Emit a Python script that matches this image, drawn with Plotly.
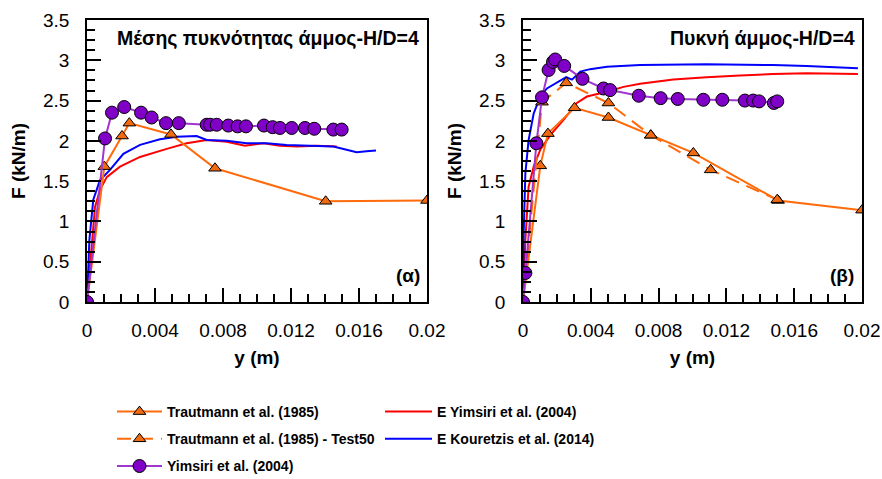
import plotly.graph_objects as go

# ---------------- Panel (α) : medium dense sand ----------------
a_traut_x = [0, 0.00102, 0.00206, 0.00249, 0.00494, 0.00753, 0.01404, 0.0200]
a_traut_F = [0, 1.68, 2.06, 2.22, 2.08, 1.66, 1.25, 1.26]

a_yims_x = [0, 0.00106, 0.00147, 0.00219, 0.00318, 0.0038, 0.00465, 0.0054, 0.00704, 0.00724,
            0.00763, 0.00831, 0.00886, 0.00935, 0.01041, 0.01092, 0.01135, 0.01204, 0.01282,
            0.01337, 0.01449, 0.01498]
a_yims_F = [0, 2.03, 2.35, 2.42, 2.35, 2.29, 2.22, 2.22, 2.20, 2.20,
            2.20, 2.19, 2.18, 2.18, 2.19, 2.17, 2.16, 2.16, 2.16,
            2.15, 2.14, 2.14]

a_eyims_x = [0, 0.00018, 0.00047, 0.00076, 0.00116, 0.00194, 0.00312, 0.00469, 0.00586, 0.00704,
             0.00822, 0.00929, 0.01037, 0.01135, 0.01234, 0.01351, 0.01469]
a_eyims_F = [0, 0.44, 1.18, 1.39, 1.55, 1.68, 1.80, 1.90, 1.97, 2.01,
             1.99, 1.94, 1.97, 1.94, 1.93, 1.94, 1.93]

a_ekou_x = [0, 0.00014, 0.00037, 0.00076, 0.00135, 0.00214, 0.00312, 0.00429, 0.00528, 0.00645,
            0.00704, 0.00822, 0.00939, 0.01057, 0.01174, 0.01331, 0.01449, 0.01527, 0.01586,
            0.01645, 0.0170]
a_ekou_F = [0, 0.77, 1.27, 1.51, 1.64, 1.84, 1.95, 2.02, 2.05, 2.06,
            2.01, 2.00, 1.97, 1.97, 1.95, 1.94, 1.93, 1.89, 1.86,
            1.87, 1.88]

# ---------------- Panel (β) : dense sand ----------------
b_traut_x = [0, 0.00102, 0.00147, 0.00304, 0.00504, 0.00754, 0.01005, 0.01505, 0.0200]
b_traut_F = [0, 1.69, 2.09, 2.41, 2.29, 2.07, 1.85, 1.26, 1.14]

b_t50_x = [0, 0.00112, 0.00255, 0.00504, 0.00754, 0.01107, 0.01500]
b_t50_F = [0, 2.48, 2.72, 2.47, 2.07, 1.64, 1.27]

b_yims_x = [0, 0.00014, 0.00079, 0.00112, 0.00151, 0.00177, 0.0019, 0.00243, 0.00351, 0.00475,
            0.00514, 0.00683, 0.00812, 0.00913, 0.01064, 0.01176, 0.01309, 0.01358, 0.01393,
            0.0148, 0.0150]
b_yims_F = [0, 0.36, 1.97, 2.54, 2.88, 2.98, 3.01, 2.93, 2.77, 2.65,
            2.63, 2.56, 2.53, 2.52, 2.51, 2.51, 2.50, 2.50, 2.49,
            2.47, 2.49]

b_eyims_x = [0, 0.00014, 0.00033, 0.00063, 0.00102, 0.00161, 0.00239, 0.00318, 0.00377, 0.00495,
             0.00593, 0.00691, 0.00887, 0.01083, 0.0128, 0.01476, 0.01672, 0.01976]
b_eyims_F = [0, 0.77, 1.43, 1.68, 1.89, 2.07, 2.26, 2.47, 2.55, 2.61,
             2.67, 2.71, 2.76, 2.79, 2.81, 2.83, 2.84, 2.83]

b_ekou_x = [0, 0.00004, 0.00014, 0.00033, 0.00063, 0.00102, 0.00141, 0.0019, 0.00255, 0.00289,
            0.00338, 0.00396, 0.00495, 0.00691, 0.01083, 0.01476, 0.01672, 0.01976]
b_ekou_F = [0, 0.86, 1.60, 2.01, 2.34, 2.55, 2.65, 2.71, 2.79, 2.76,
            2.86, 2.89, 2.92, 2.94, 2.95, 2.94, 2.93, 2.90]

names = ["Trautmann et al. (1985)", "Trautmann et al. (1985) - Test50", "Yimsiri et al. (2004)",
         "E Yimsiri et al. (2004)", "E Kouretzis et al. (2014)"]
x_ticks = [0, 0.004, 0.008, 0.012, 0.016, 0.02]
x_ticklabels = ["0", "0.004", "0.008", "0.012", "0.016", "0.02"]
y_ticks = [0, 0.5, 1, 1.5, 2, 2.5, 3, 3.5]
y_ticklabels = ["0", "0.5", "1", "1.5", "2", "2.5", "3", "3.5"]

ORANGE = "#FF6A0A"
TRI = "#F06A10"
PURPLE_L = "#A035D0"
PURPLE_M = "#8000C8"
RED = "#FF0000"
BLUE = "#0000FF"

fig = go.Figure()

def add(x, y, xa, ya, name, color, dash="solid", marker=None, show=False, legend="legend", group=None):
    mode = "lines+markers" if marker else "lines"
    fig.add_trace(go.Scatter(
        x=x, y=y, xaxis=xa, yaxis=ya, name=name, mode=mode,
        line=dict(color=color, width=2, dash=dash),
        marker=marker, showlegend=show, legend=legend, legendgroup=group))

tri = dict(symbol="triangle-up", size=11, color=TRI, line=dict(color="black", width=1))
circ = dict(symbol="circle", size=13, color=PURPLE_M, line=dict(color="black", width=1))

# panel α
add(a_eyims_x, a_eyims_F, "x", "y", names[3], RED, group="g4")
add(a_ekou_x, a_ekou_F, "x", "y", names[4], BLUE, group="g5")
add(a_traut_x, a_traut_F, "x", "y", names[0], ORANGE, marker=tri, group="g1")
add(a_yims_x, a_yims_F, "x", "y", names[2], PURPLE_L, marker=circ, group="g3")

# panel β
add(b_eyims_x, b_eyims_F, "x2", "y2", names[3], RED, show=True, legend="legend2", group="g4")
add(b_ekou_x, b_ekou_F, "x2", "y2", names[4], BLUE, show=True, legend="legend2", group="g5")
add(b_traut_x, b_traut_F, "x2", "y2", names[0], ORANGE, marker=tri, show=True, group="g1")
add(b_t50_x, b_t50_F, "x2", "y2", names[1], ORANGE, dash="14px,8px", marker=tri, show=True, group="g2")
add(b_yims_x, b_yims_F, "x2", "y2", names[2], PURPLE_L, marker=circ, show=True, group="g3")

TICKFONT = dict(family="Liberation Sans, Arial, sans-serif", size=19, color="black")
TITLEFONT = dict(family="Liberation Sans, Arial, sans-serif", size=19, color="black", weight="bold")

def xaxis(domain, anchor):
    return dict(domain=domain, anchor=anchor, range=[0, 0.02], tickmode="array",
                tickvals=x_ticks, ticktext=x_ticklabels, ticks="inside", ticklen=14,
                tickwidth=1.5, tickcolor="black", showline=True, linecolor="black",
                linewidth=1.5, mirror=True, showgrid=False, zeroline=False,
                tickfont=TICKFONT, ticklabelstandoff=10, automargin=False,
                minor=dict(dtick=0.001, ticks="inside", ticklen=8, tickwidth=1.5, tickcolor="black"),
                title=dict(text="y (m)", font=TITLEFONT, standoff=11))

def yaxis(domain, anchor):
    return dict(domain=domain, anchor=anchor, range=[0, 3.5], tickmode="array",
                tickvals=y_ticks, ticktext=y_ticklabels, ticks="inside", ticklen=14,
                tickwidth=1.5, tickcolor="black", showline=True, linecolor="black",
                linewidth=1.5, mirror=True, showgrid=False, zeroline=False,
                tickfont=TICKFONT, ticklabelstandoff=12, automargin=False,
                minor=dict(dtick=0.125, ticks="inside", ticklen=8, tickwidth=1.5, tickcolor="black"),
                title=dict(text="F (kN/m)", font=TITLEFONT, standoff=12))

ydom = [177 / 479, 459 / 479]
LEGFONT = dict(family="Liberation Sans, Arial", size=14, color="black", weight="bold")

fig.update_layout(
    width=882, height=479,
    margin=dict(l=0, r=0, t=0, b=0, autoexpand=False),
    paper_bgcolor="white", plot_bgcolor="white",
    xaxis=xaxis([87 / 882, 427 / 882], "y"),
    yaxis=yaxis(ydom, "x"),
    xaxis2=xaxis([523 / 882, 862 / 882], "y2"),
    yaxis2=yaxis(ydom, "x2"),
    legend=dict(x=112 / 882, y=1 - 396 / 479, xanchor="left", yanchor="top", font=LEGFONT,
                bgcolor="rgba(0,0,0,0)", itemwidth=45, tracegroupgap=6, traceorder="grouped"),
    legend2=dict(x=380 / 882, y=1 - 396 / 479, xanchor="left", yanchor="top", font=LEGFONT,
                 bgcolor="rgba(0,0,0,0)", itemwidth=47, tracegroupgap=6, traceorder="grouped"),
    annotations=[
        dict(text="<b>Μέσης πυκνότητας άμμος-H/D=4</b>", xref="paper", yref="paper",
             x=421 / 882, y=1 - 38 / 479, xanchor="right", yanchor="middle", showarrow=False,
             font=dict(family="Liberation Sans, Arial", size=19.5, color="black")),
        dict(text="<b>(α)</b>", xref="paper", yref="paper",
             x=422 / 882, y=1 - 275 / 479, xanchor="right", yanchor="middle", showarrow=False,
             font=dict(family="Liberation Sans, Arial", size=19, color="black")),
        dict(text="<b>Πυκνή άμμος-H/D=4</b>", xref="paper", yref="paper",
             x=857 / 882, y=1 - 38 / 479, xanchor="right", yanchor="middle", showarrow=False,
             font=dict(family="Liberation Sans, Arial", size=19.5, color="black")),
        dict(text="<b>(β)</b>", xref="paper", yref="paper",
             x=856 / 882, y=1 - 275 / 479, xanchor="right", yanchor="middle", showarrow=False,
             font=dict(family="Liberation Sans, Arial", size=19, color="black")),
    ],
)

fig.write_html("out.html")
